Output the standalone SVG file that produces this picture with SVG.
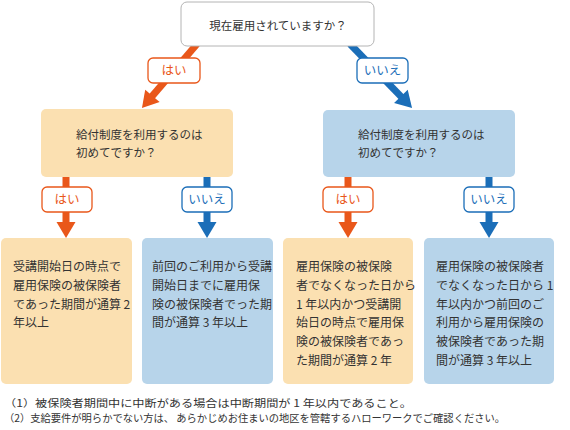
<svg xmlns="http://www.w3.org/2000/svg" width="570" height="430" viewBox="0 0 570 430">
<defs>
<marker id="ao" markerUnits="userSpaceOnUse" markerWidth="20" markerHeight="22" viewBox="0 -11 18 22" refX="2" refY="0" orient="auto"><path d="M0,-9.5 L16,0 L0,9.5 z" fill="#E9571A"/></marker>
<marker id="ab" markerUnits="userSpaceOnUse" markerWidth="20" markerHeight="22" viewBox="0 -11 18 22" refX="2" refY="0" orient="auto"><path d="M0,-9.5 L16,0 L0,9.5 z" fill="#1B6EB8"/></marker>
<style>
text{font-family:"Noto Sans CJK JP","Noto Sans",sans-serif;fill:#333;}
.t{font-size:12px;}
.m{font-size:11.5px;}
.f{font-size:10.2px;}
.o{fill:#FBE0B1;}
.b{fill:#B7D4EA;}
.lo{stroke:#E9571A;stroke-width:7;fill:none;}
.lb{stroke:#1B6EB8;stroke-width:7;fill:none;}
.bo{fill:#fff;stroke:#E9571A;stroke-width:1.3;}
.bb{fill:#fff;stroke:#1B6EB8;stroke-width:1.3;}
.to{fill:#E9571A;font-size:12.5px;text-anchor:middle;}
.tb{fill:#1B6EB8;font-size:12.5px;text-anchor:middle;}
</style>
</defs>
<g id="connectors">
<line class="lo" x1="197" y1="44" x2="151.1" y2="97.4" marker-end="url(#ao)"/>
<line class="lb" x1="350" y1="44" x2="402.3" y2="97.9" marker-end="url(#ab)"/>
<line class="lo" x1="66" y1="176" x2="66" y2="224" marker-end="url(#ao)"/>
<line class="lb" x1="207" y1="176" x2="207" y2="224" marker-end="url(#ab)"/>
<line class="lo" x1="348" y1="176" x2="348" y2="224" marker-end="url(#ao)"/>
<line class="lb" x1="489" y1="176" x2="489" y2="224" marker-end="url(#ab)"/>
<g id="lbl1"><rect class="bo" x="148" y="58" width="52" height="25" rx="5"/><text class="to" x="174" y="75">はい</text></g>
<g id="lbl2"><rect class="bb" x="357" y="58" width="51" height="25" rx="5"/><text class="tb" x="382.5" y="75">いいえ</text></g>
<g id="lbl3"><rect class="bo" x="42" y="187" width="50" height="25" rx="5"/><text class="to" x="67" y="204">はい</text></g>
<g id="lbl4"><rect class="bb" x="182" y="187" width="50" height="25" rx="5"/><text class="tb" x="207" y="204">いいえ</text></g>
<g id="lbl5"><rect class="bo" x="323" y="187" width="50" height="25" rx="5"/><text class="to" x="348" y="204">はい</text></g>
<g id="lbl6"><rect class="bb" x="464" y="187" width="50" height="25" rx="5"/><text class="tb" x="489" y="204">いいえ</text></g>
</g>
<g id="q1">
<rect x="181" y="2" width="193" height="44" rx="6" fill="#fff" stroke="#b4b4b4" stroke-width="1"/>
<text class="m" x="278" y="30" text-anchor="middle">現在雇用されていますか？</text>
</g>
<g id="q2">
<rect class="o" x="41" y="109" width="192" height="68" rx="5"/>
<text class="m" x="76" y="139">給付制度を利用するのは</text>
<text class="m" x="76" y="156.5">初めてですか？</text>
</g>
<g id="q3">
<rect class="b" x="323" y="110" width="192" height="67" rx="5"/>
<text class="m" x="358" y="139">給付制度を利用するのは</text>
<text class="m" x="358" y="156.5">初めてですか？</text>
</g>
<g id="r1">
<rect class="o" x="1" y="238" width="131" height="146" rx="5"/>
<text class="t" x="13" y="271">受講開始日の時点で</text>
<text class="t" x="13" y="289.8">雇用保険の被保険者</text>
<text class="t" x="13" y="308.6">であった期間が通算 2</text>
<text class="t" x="13" y="327.4">年以上</text>
</g>
<g id="r2">
<rect class="b" x="142" y="238" width="131" height="146" rx="5"/>
<text class="t" x="152" y="271">前回のご利用から受講</text>
<text class="t" x="152" y="289.8">開始日までに雇用保</text>
<text class="t" x="152" y="308.6">険の被保険者でった期</text>
<text class="t" x="152" y="327.4">間が通算 3 年以上</text>
</g>
<g id="r3">
<rect class="o" x="283" y="238" width="130" height="146" rx="5"/>
<text class="t" x="296" y="271">雇用保険の被保険</text>
<text class="t" x="296" y="289.8">者でなくなった日から</text>
<text class="t" x="296" y="308.6">1 年以内かつ受講開</text>
<text class="t" x="296" y="327.4">始日の時点で雇用保</text>
<text class="t" x="296" y="346.2">険の被保険者であっ</text>
<text class="t" x="296" y="365">た期間が通算 2 年</text>
</g>
<g id="r4">
<rect class="b" x="424" y="238" width="130" height="146" rx="5"/>
<text class="t" x="436" y="271">雇用保険の被保険者</text>
<text class="t" x="436" y="289.8">でなくなった日から 1</text>
<text class="t" x="436" y="308.6">年以内かつ前回のご</text>
<text class="t" x="436" y="327.4">利用から雇用保険の</text>
<text class="t" x="436" y="346.2">被保険者であった期</text>
<text class="t" x="436" y="365">間が通算 3 年以上</text>
</g>
<g id="notes">
<text class="f" x="4" y="407" textLength="408" lengthAdjust="spacingAndGlyphs">（1）被保険者期間中に中断がある場合は中断期間が 1 年以内であること。</text>
<text class="f" x="4" y="422" textLength="501" lengthAdjust="spacingAndGlyphs">（2）支給要件が明らかでない方は、 あらかじめお住まいの地区を管轄するハローワークでご確認ください。</text>
</g>
</svg>
